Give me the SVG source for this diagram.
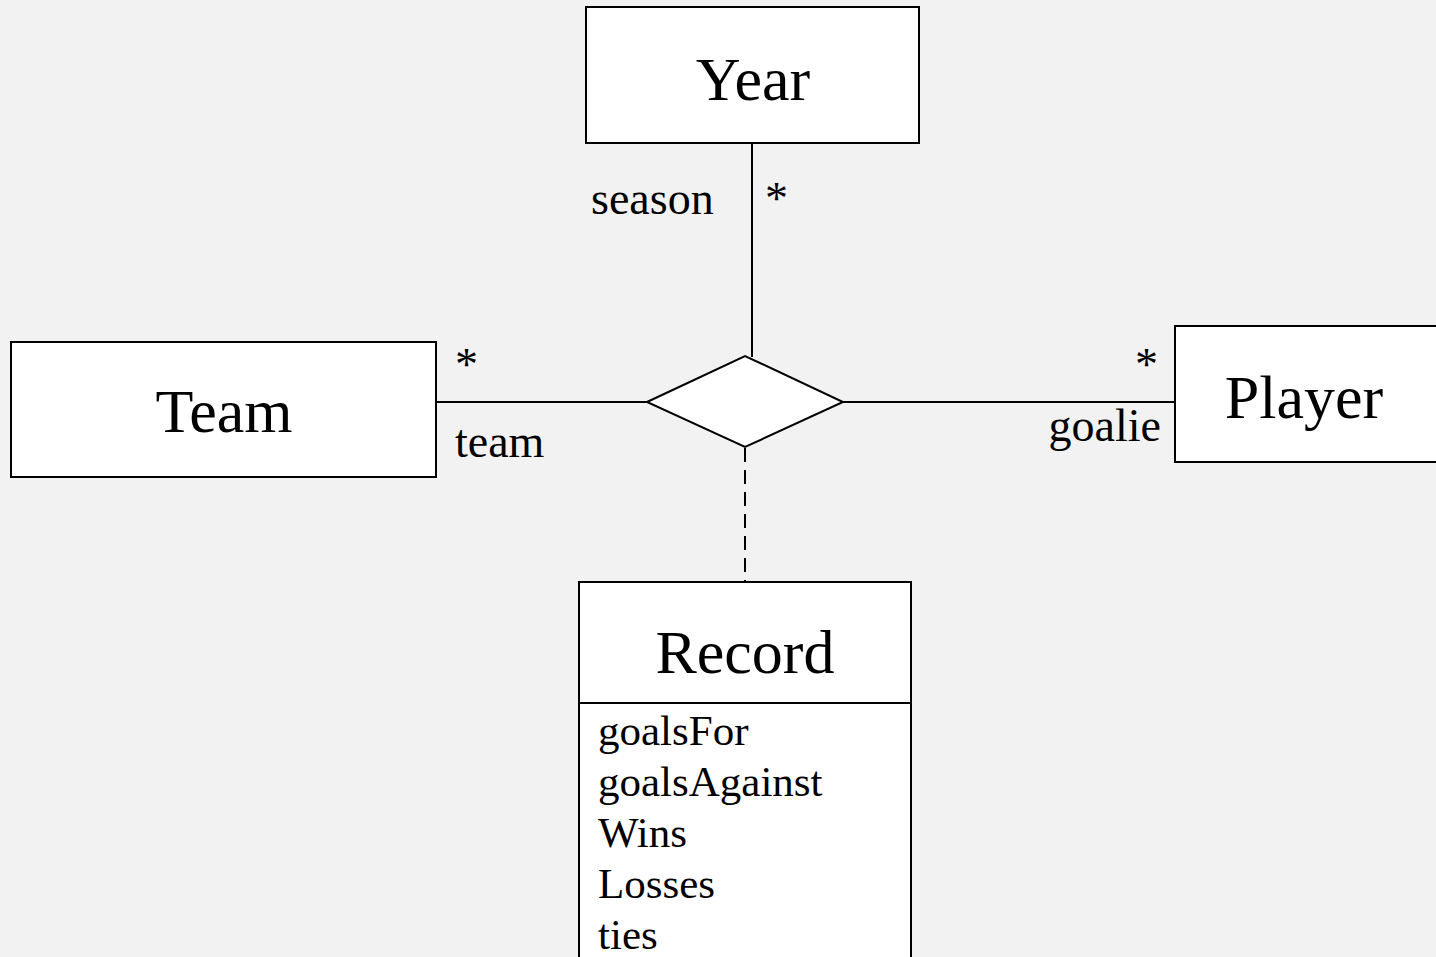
<svg xmlns="http://www.w3.org/2000/svg" width="1436" height="957" viewBox="0 0 1436 957">
  <style>
    .box { fill: #ffffff; stroke: #000000; stroke-width: 2; }
    .line { fill: none; stroke: #000000; stroke-width: 2; }
    .dash { stroke-dasharray: 14 8; }
    .title { font-family: "Liberation Serif", "Times New Roman", serif; font-size: 62px; text-anchor: middle; fill: #000; }
    .label { font-family: "Liberation Serif", "Times New Roman", serif; font-size: 46px; fill: #000; }
    .attr { font-family: "Liberation Serif", "Times New Roman", serif; font-size: 43px; fill: #000; }
  </style>
  <rect width="1436" height="957" fill="#f2f2f2"/>

  <g id="connectors">
    <line class="line" x1="752" y1="143" x2="752" y2="357"/>
    <line class="line" x1="436" y1="402" x2="647" y2="402"/>
    <line class="line" x1="843" y1="402" x2="1175" y2="402"/>
    <line class="line dash" x1="745" y1="448" x2="745" y2="582"/>
    <text class="label" x="591" y="214">season</text>
    <text class="label" x="765" y="214">*</text>
    <text class="label" x="455" y="380">*</text>
    <text class="label" x="455" y="457">team</text>
    <text class="label" x="1158" y="380" text-anchor="end">*</text>
    <text class="label" x="1161" y="441" text-anchor="end">goalie</text>
  </g>

  <g id="year">
    <rect class="box" x="586" y="7" width="333" height="136"/>
    <text class="title" x="753" y="100">Year</text>
  </g>

  <g id="team">
    <rect class="box" x="11" y="342" width="425" height="135"/>
    <text class="title" x="224" y="432">Team</text>
  </g>

  <g id="player">
    <rect class="box" x="1175" y="326" width="270" height="136"/>
    <text class="title" x="1304" y="418">Player</text>
  </g>

  <g id="association">
    <polygon class="box" points="647,402 745,356 843,402 745,447"/>
  </g>

  <g id="record">
    <rect class="box" x="579" y="582" width="332" height="390"/>
    <line class="line" x1="579" y1="703" x2="911" y2="703"/>
    <text class="title" x="745" y="673">Record</text>
    <text class="attr" x="598" y="745">goalsFor</text>
    <text class="attr" x="598" y="796">goalsAgainst</text>
    <text class="attr" x="598" y="847">Wins</text>
    <text class="attr" x="598" y="898">Losses</text>
    <text class="attr" x="598" y="949">ties</text>
  </g>
</svg>
